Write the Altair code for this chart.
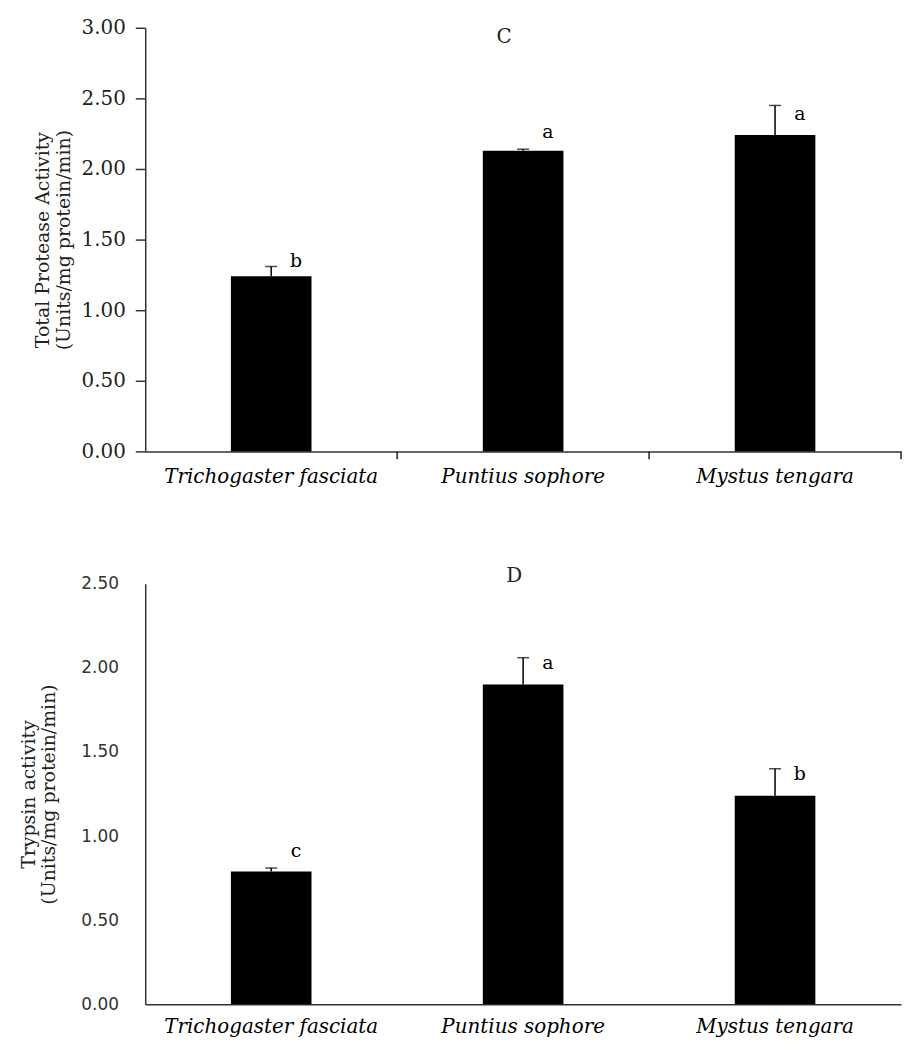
import altair as alt
import pandas as pd

species = ["Trichogaster fasciata", "Puntius sophore", "Mystus tengara"]

protease_mean = [1.24, 2.13, 2.24]
protease_err = [0.07, 0.01, 0.21]
protease_letters = ["b", "a", "a"]
protease_letter_y = [1.35, 2.26, 2.39]

trypsin_mean = [0.79, 1.90, 1.24]
trypsin_err = [0.02, 0.16, 0.16]
trypsin_letters = ["c", "a", "b"]
trypsin_letter_y = [0.91, 2.03, 1.37]

protease_ticks = [0.0, 0.5, 1.0, 1.5, 2.0, 2.5, 3.0]
trypsin_ticks = [0.0, 0.5, 1.0, 1.5, 2.0, 2.5]

# category boundaries (band edges) for the tick marks on the top x axis
boundaries = [1, 2, 3]


def make_df(mean, err, letters, ly):
    return pd.DataFrame({
        "species": species,
        "mean": mean,
        "top": [m + e for m, e in zip(mean, err)],
        "letter": letters,
        "ly": ly,
    })


df_p = make_df(protease_mean, protease_err, protease_letters, protease_letter_y)
df_t = make_df(trypsin_mean, trypsin_err, trypsin_letters, trypsin_letter_y)
df_b = pd.DataFrame({"b": boundaries})

SERIF = "DejaVu Serif"
SANS = "DejaVu Sans"


def panel(df, ymax, yticks, ytitle, letter, top_chart, h):
    xscale = alt.Scale(domain=species, paddingInner=0.68, paddingOuter=0.34)
    xaxis = alt.Axis(title=None, labelAngle=0, labelFont=SERIF, labelFontStyle="italic",
                     labelFontSize=20, labelColor="black",
                     labelPadding=15 if top_chart else 12, labelLimit=0,
                     ticks=False, domainColor="#333", domainWidth=1.5)
    if top_chart:
        yaxis = alt.Axis(title=ytitle, values=yticks, format=".2f", grid=False,
                         labelFont=SERIF, labelFontSize=20, labelColor="#222",
                         tickSize=10, tickColor="#333", tickWidth=1.5, labelPadding=10,
                         domainColor="#333", domainWidth=1.5,
                         titleFont=SERIF, titleFontSize=19, titleFontWeight="normal",
                         titleColor="#222", titlePadding=8)
    else:
        yaxis = alt.Axis(title=ytitle, values=yticks, format=".2f", grid=False,
                         labelFont=SANS, labelFontSize=17, labelColor="#333",
                         ticks=False, labelPadding=27,
                         domainColor="#333", domainWidth=1.5,
                         titleFont=SERIF, titleFontSize=19, titleFontWeight="normal",
                         titleColor="#222", titlePadding=22)
    yscale = alt.Scale(domain=[0, ymax], nice=False, zero=True)
    x = alt.X("species:N", scale=xscale, axis=xaxis, sort=species)
    base = alt.Chart(df).encode(x=x)
    bars = base.mark_bar(color="black").encode(
        y=alt.Y("mean:Q", scale=yscale, axis=yaxis))
    err = base.mark_rule(color="black", strokeWidth=1.5).encode(
        y="mean:Q", y2="top:Q")
    cap = base.mark_tick(color="black", size=12, thickness=1.5, orient="horizontal").encode(
        y="top:Q")
    txt = base.mark_text(font=SERIF, fontSize=19, dx=25,
                         baseline="middle", color="black").encode(
        y="ly:Q", text="letter:N")
    ch = alt.layer(bars, err, cap, txt)
    if top_chart:
        ticks = alt.Chart(df_b).mark_rule(color="#222", strokeWidth=1.5, y2Offset=8).encode(
            x=alt.X("b:Q", scale=alt.Scale(domain=[0, 3], nice=False, zero=True), axis=None),
            y=alt.datum(0), y2=alt.datum(0))
        ch = alt.layer(ch, ticks).resolve_scale(x="independent")
    return ch.properties(
        width=760, height=h,
        title=alt.TitleParams(letter, font=SERIF, fontSize=20, fontWeight="normal",
                              color="#222", dx=-19 if top_chart else -9,
                              offset=-29 if top_chart else -11,
                              anchor="middle"))


top = panel(df_p, 3.0, protease_ticks,
            ["Total Protease Activity", "(Units/mg protein/min)"], "C", True, 426)
bottom = panel(df_t, 2.5, trypsin_ticks,
               ["Trypsin activity", "(Units/mg protein/min)"], "D", False, 423)

chart = alt.vconcat(top, bottom, spacing=80).properties(
    padding={"left": 11, "top": 7, "right": 0, "bottom": 0},
    background="white",
).configure_view(strokeWidth=0)

chart.save("out.html", embed_options={"renderer": "svg", "actions": False})
